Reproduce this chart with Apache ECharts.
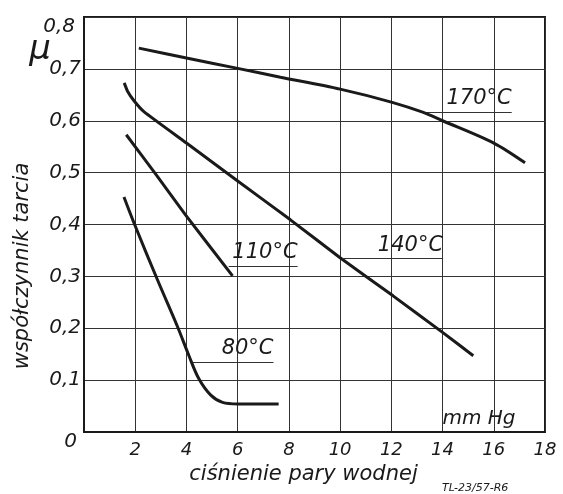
<!DOCTYPE html>
<html>
<head>
<meta charset="utf-8">
<script src="https://cdn.jsdelivr.net/npm/echarts@6/dist/echarts.min.js"></script>
<style>
html,body{margin:0;padding:0;background:#fff;}
#c{width:563px;height:494px;}
</style>
</head>
<body>
<div id="c"></div>
<script>
// ---- data ----
const curve170 = [[2.14,0.740],[4.0,0.721],[6.0,0.701],[7.67,0.684],[10.0,0.661],[12.0,0.636],[13.25,0.616],[14.0,0.600],[16.0,0.557],[17.22,0.519]];
const curve140 = [[1.57,0.673],[1.70,0.657],[1.96,0.638],[2.35,0.617],[4.0,0.557],[6.0,0.484],[8.06,0.409],[10.0,0.336],[12.08,0.262],[14.0,0.192],[15.2,0.147]];
const curve110 = [[1.65,0.573],[2.8,0.497],[3.97,0.418],[5.8,0.301]];
const curve80  = [[1.56,0.453],[2.0,0.397],[2.88,0.292],[3.66,0.202],[4.09,0.148],[4.48,0.103],[4.95,0.071],[5.41,0.057],[6.0,0.054],[7.6,0.054]];
const curveNames = ['170°C','140°C','110°C','80°C'];
// underline of each curve label: [xStart, xEnd, y]
const labelLines = [[13.2,16.7,0.617],[10.13,14.02,0.334],[5.65,8.34,0.320],[4.25,7.4,0.135]];
const xTitle = 'ciśnienie pary wodnej';
const yTitle = 'współczynnik tarcia';
const unitText = 'mm Hg';
const muText = 'μ';
const refText = 'TL-23/57-R6';

const FONT = 'DejaVu Sans';
const INK = '#1a1a1a';

const chart = echarts.init(document.getElementById('c'), null, {renderer:'canvas'});

function curveSeries(data, idx, smooth){
  const ll = labelLines[idx];
  return {
    type:'line', data:data, smooth:smooth, showSymbol:false, symbol:'none',
    lineStyle:{color:INK, width:3}, z:5, silent:true,
    markLine:{
      silent:true, symbol:'none', animation:false,
      lineStyle:{color:'#333', width:1, type:'solid'},
      label:{show:true, position:'insideEndTop', distance:[0,3], formatter:curveNames[idx],
        fontFamily:FONT, fontStyle:'italic', fontSize:21, color:INK},
      data:[[{coord:[ll[0],ll[2]]},{coord:[ll[1],ll[2]]}]]
    }
  };
}

chart.setOption({
  animation:false,
  backgroundColor:'#fff',
  grid:{left:84, right:18, top:17, bottom:62, show:true, borderColor:INK, borderWidth:2, backgroundColor:'transparent'},
  xAxis:{
    type:'value', min:0, max:18, interval:2,
    axisLine:{show:true, onZero:false, lineStyle:{color:INK, width:2}},
    axisTick:{show:false},
    splitLine:{show:true, lineStyle:{color:'#333', width:1}},
    axisLabel:{showMinLabel:false, margin:9, fontFamily:FONT, fontStyle:'italic', fontSize:18, color:INK},
    name:xTitle, nameLocation:'middle', nameGap:29,
    nameTextStyle:{fontFamily:FONT, fontStyle:'italic', fontSize:21, color:INK, padding:[0,22,0,0]}
  },
  yAxis:{
    type:'value', min:0, max:0.8, interval:0.1,
    axisLine:{show:true, onZero:false, lineStyle:{color:INK, width:2}},
    axisTick:{show:false},
    splitLine:{show:true, lineStyle:{color:'#333', width:1}},
    axisLabel:{margin:3, fontFamily:FONT, fontStyle:'italic', fontSize:20, color:INK,
      formatter:function(v){
        const s = (Math.round(v*10)/10).toString().replace('.',',');
        if (Math.abs(v-0.8)<1e-6) return '{top|'+s+'}';
        if (v===0) return '{zero|'+s+'}';
        return s;
      },
      rich:{
        top:{fontFamily:FONT, fontStyle:'italic', fontSize:20, color:INK, padding:[20,6,0,0]},
        zero:{fontFamily:FONT, fontStyle:'italic', fontSize:20, color:INK, padding:[20,4,0,0]}
      }
    }
  },
  graphic:[
    {type:'text', x:23, y:266, rotation:Math.PI/2, silent:true,
      style:{text:yTitle, fontFamily:FONT, fontStyle:'italic', fontSize:21, fill:INK, align:'center', verticalAlign:'middle'}},
    {type:'text', x:40, y:50, silent:true,
      style:{text:muText, fontFamily:FONT, fontStyle:'italic', fontSize:34, fill:INK, align:'center', verticalAlign:'middle'}},
    {type:'text', x:479, y:419, silent:true,
      style:{text:unitText, fontFamily:FONT, fontStyle:'italic', fontSize:20, fill:INK, align:'center', verticalAlign:'middle'}},
    {type:'text', x:442, y:488, silent:true,
      style:{text:refText, fontFamily:FONT, fontStyle:'italic', fontSize:11, fill:INK, align:'left', verticalAlign:'middle'}}
  ],
  series:[curveSeries(curve170,0,0.3), curveSeries(curve140,1,0.15), curveSeries(curve110,2,0.1), curveSeries(curve80,3,0.35)]
});
</script>
</body>
</html>
